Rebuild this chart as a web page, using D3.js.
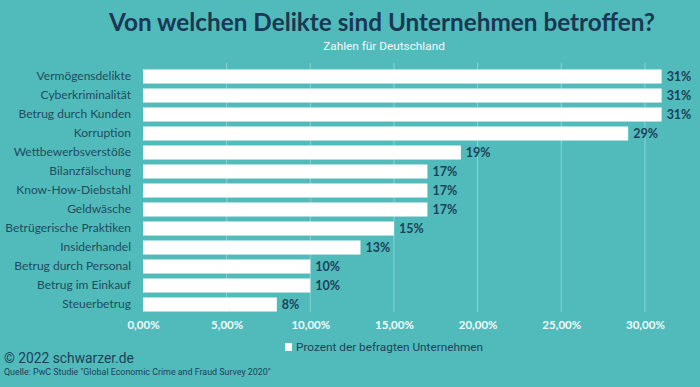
<!DOCTYPE html>
<html><head><meta charset="utf-8">
<script src="https://cdn.jsdelivr.net/npm/d3@7"></script>
<style>
html,body{margin:0;padding:0;background:#51bbbb;}
svg{display:block;}
</style></head>
<body>
<svg id="chart" width="700" height="387"></svg>
<script>
const categories = ["Vermögensdelikte","Cyberkriminalität","Betrug durch Kunden","Korruption","Wettbewerbsverstöße","Bilanzfälschung","Know-How-Diebstahl","Geldwäsche","Betrügerische Praktiken","Insiderhandel","Betrug durch Personal","Betrug im Einkauf","Steuerbetrug"];
const values = [31,31,31,29,19,17,17,17,15,13,10,10,8];
const tickValues = [0,5,10,15,20,25,30];
const title = "Von welchen Delikte sind Unternehmen betroffen?";
const subtitle = "Zahlen für Deutschland";
const legendLabel = "Prozent der befragten Unternehmen";
const credit = "© 2022 schwarzer.de";
const source = "Quelle: PwC Studie \"Global Economic Crime and Fraud Survey 2020\"";

const svg = d3.select("#chart");
const bg = "#51bbbb", dark = "#1b4259", labelCol = "#1f4c5e";

svg.append("rect").attr("width",700).attr("height",387).attr("fill",bg);

const x = d3.scaleLinear().domain([0,32]).range([143, 143 + 32*16.73]);
const y = d3.scaleBand().domain(categories).range([67,314]).paddingInner(0.26).paddingOuter(0.13);

// gridlines
svg.append("g").selectAll("line").data(tickValues.filter(d=>d>0)).join("line")
  .attr("x1",d=>x(d)).attr("x2",d=>x(d)).attr("y1",63).attr("y2",312)
  .attr("stroke","#8ad3d3").attr("stroke-width",1);

// x axis labels
const xAxis = d3.axisBottom(x).tickValues(tickValues).tickSize(0)
  .tickFormat(d=>d3.format(".2f")(d).replace(".",",")+"%");
const gx = svg.append("g").attr("transform","translate(0,318)").call(xAxis);
gx.select(".domain").remove();
gx.selectAll("text").attr("fill","#f2fbfb").attr("font-family","Lato").attr("font-weight","bold").attr("font-size","11.5px");

// y axis labels
const yAxis = d3.axisLeft(y).tickSize(0).tickPadding(0);
const gy = svg.append("g").attr("transform","translate(131,0)").call(yAxis);
gy.select(".domain").remove();
gy.selectAll("text").attr("fill",labelCol).attr("font-family","Lato").attr("font-size","12px");

// bars
svg.append("g").selectAll("rect").data(values).join("rect")
  .attr("x",x(0)).attr("y",(d,i)=>y(categories[i]))
  .attr("width",d=>x(d)-x(0)).attr("height",y.bandwidth())
  .attr("fill","#ffffff");

// value labels
svg.append("g").selectAll("text").data(values).join("text")
  .attr("x",d=>x(d)+5).attr("y",(d,i)=>y(categories[i])+y.bandwidth()/2)
  .attr("dy","0.36em").attr("fill",dark).attr("font-family","Lato").attr("font-weight","bold").attr("font-size","12.5px")
  .text(d=>d+"%");

// title
svg.append("text").attr("x",382).attr("y",31).attr("text-anchor","middle")
  .attr("fill","#1a3853").attr("font-family","Lato").attr("font-weight","bold").attr("font-size","24.3px").text(title);
svg.append("text").attr("x",384).attr("y",50).attr("text-anchor","middle")
  .attr("fill","#f2fbfb").attr("font-family","Roboto").attr("font-size","11.8px").text(subtitle);

// legend
svg.append("rect").attr("x",285).attr("y",343).attr("width",7).attr("height",8).attr("fill","#ffffff");
svg.append("text").attr("x",296).attr("y",351).attr("fill",dark).attr("font-family","Roboto").attr("font-size","11.8px").text(legendLabel);

// footer
svg.append("text").attr("x",4).attr("y",363).attr("fill",dark).attr("font-family","Roboto").attr("font-size","13.8px").text(credit);
svg.append("text").attr("x",4).attr("y",375).attr("fill",dark).attr("font-family","Roboto").attr("font-size","8.9px").text(source);
</script>
</body></html>
